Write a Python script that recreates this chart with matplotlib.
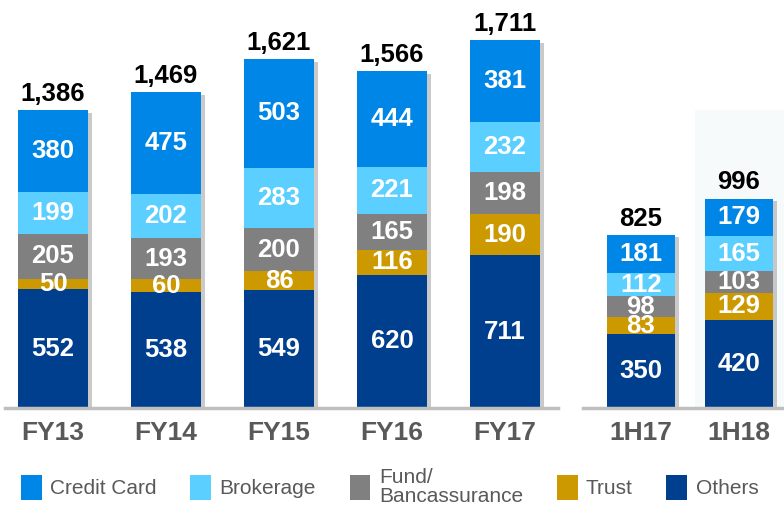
import matplotlib
matplotlib.use("Agg")
import matplotlib.pyplot as plt
import matplotlib.patheffects as pe
from matplotlib.patches import Patch
import numpy as np

plt.rcParams['font.family'] = ['Liberation Sans', 'DejaVu Sans']

# ---- data ----
fy_labels = ["FY13", "FY14", "FY15", "FY16", "FY17"]
h_labels = ["1H17", "1H18"]
series_names = ["Others", "Trust", "Fund/\nBancassurance", "Brokerage", "Credit Card"]
others_fy = [552, 538, 549, 620, 711]
trust_fy = [50, 60, 86, 116, 190]
fund_fy = [205, 193, 200, 165, 198]
broker_fy = [199, 202, 283, 221, 232]
credit_fy = [380, 475, 503, 444, 381]
totals_fy = [1386, 1469, 1621, 1566, 1711]

others_h = [350, 420]
trust_h = [83, 129]
fund_h = [98, 103]
broker_h = [112, 165]
credit_h = [181, 179]
totals_h = [825, 996]

colors = ["#003F8E", "#CC9900", "#808080", "#5BCFFF", "#0086E6"]

W, H = 784, 507
fig = plt.figure(figsize=(W / 100, H / 100), dpi=100)

base = 99 / H
axh = 408 / H
axL = fig.add_axes([5 / W, base, 553 / W, axh])
axR = fig.add_axes([583 / W, base, 201 / W, axh])

shadow = [pe.SimplePatchShadow(offset=(3, -2), shadow_rgbFace="#8a8a8a", alpha=0.45), pe.Normal()]


def draw(ax, labels, stacks, totals, width, xlim, ylim):
    x = np.arange(len(labels))
    sums = np.sum(np.array(stacks), axis=0)
    sb = ax.bar(x, sums, width, color=colors[0], linewidth=0, zorder=1)
    for b in sb:
        b.set_path_effects(shadow)
    bottom = np.zeros(len(labels))
    for vals, col in zip(stacks, colors):
        ax.bar(x, vals, width, bottom=bottom, color=col, linewidth=0, zorder=2)
        for xi, v, bt in zip(x, vals, bottom):
            ax.text(xi, bt + v / 2, f"{v}", ha="center", va="center", color="white",
                    fontsize=18.5, fontweight="bold", zorder=4)
        bottom = bottom + np.array(vals)
    for xi, t, bt in zip(x, totals, bottom):
        ax.annotate(f"{t:,}", (xi, bt), xytext=(0, 3), textcoords="offset points",
                    ha="center", va="bottom", fontsize=18.5, fontweight="bold", color="black")
    ax.set_xlim(*xlim)
    ax.set_ylim(*ylim)
    ax.set_xticks(x)
    ax.set_xticklabels(labels, fontsize=19, fontweight="bold", color="#595959")
    ax.tick_params(axis="x", length=0, pad=9)
    ax.set_yticks([])
    for s in ["top", "left", "right"]:
        ax.spines[s].set_visible(False)
    ax.spines["bottom"].set_color("#BFBFBF")
    ax.spines["bottom"].set_linewidth(2.5)
    ax.patch.set_alpha(0)


draw(axL, fy_labels, [others_fy, trust_fy, fund_fy, broker_fy, credit_fy], totals_fy,
     0.62, (-0.425, 4.47), (0, 1897))
axR.axvspan(0.55, 1.5, ymin=0, ymax=0.73, color="#F6FAFB", zorder=0, lw=0)
draw(axR, h_labels, [others_h, trust_h, fund_h, broker_h, credit_h], totals_h,
     0.7, (-0.59, 1.46), (0, 1940))

handles = [Patch(facecolor=c) for c in colors[::-1]]
names = series_names[::-1]
leg = fig.legend(handles, names, loc="center", ncol=5, frameon=False, fontsize=15,
                 handlelength=1.0, handleheight=1.5, handletextpad=0.4,
                 columnspacing=1.62, labelcolor="#595959",
                 bbox_to_anchor=(0.497, (H - 487) / H), bbox_transform=fig.transFigure)
for t in leg.get_texts():
    t.set_linespacing(0.95)

fig.savefig("out.png", dpi=100)
